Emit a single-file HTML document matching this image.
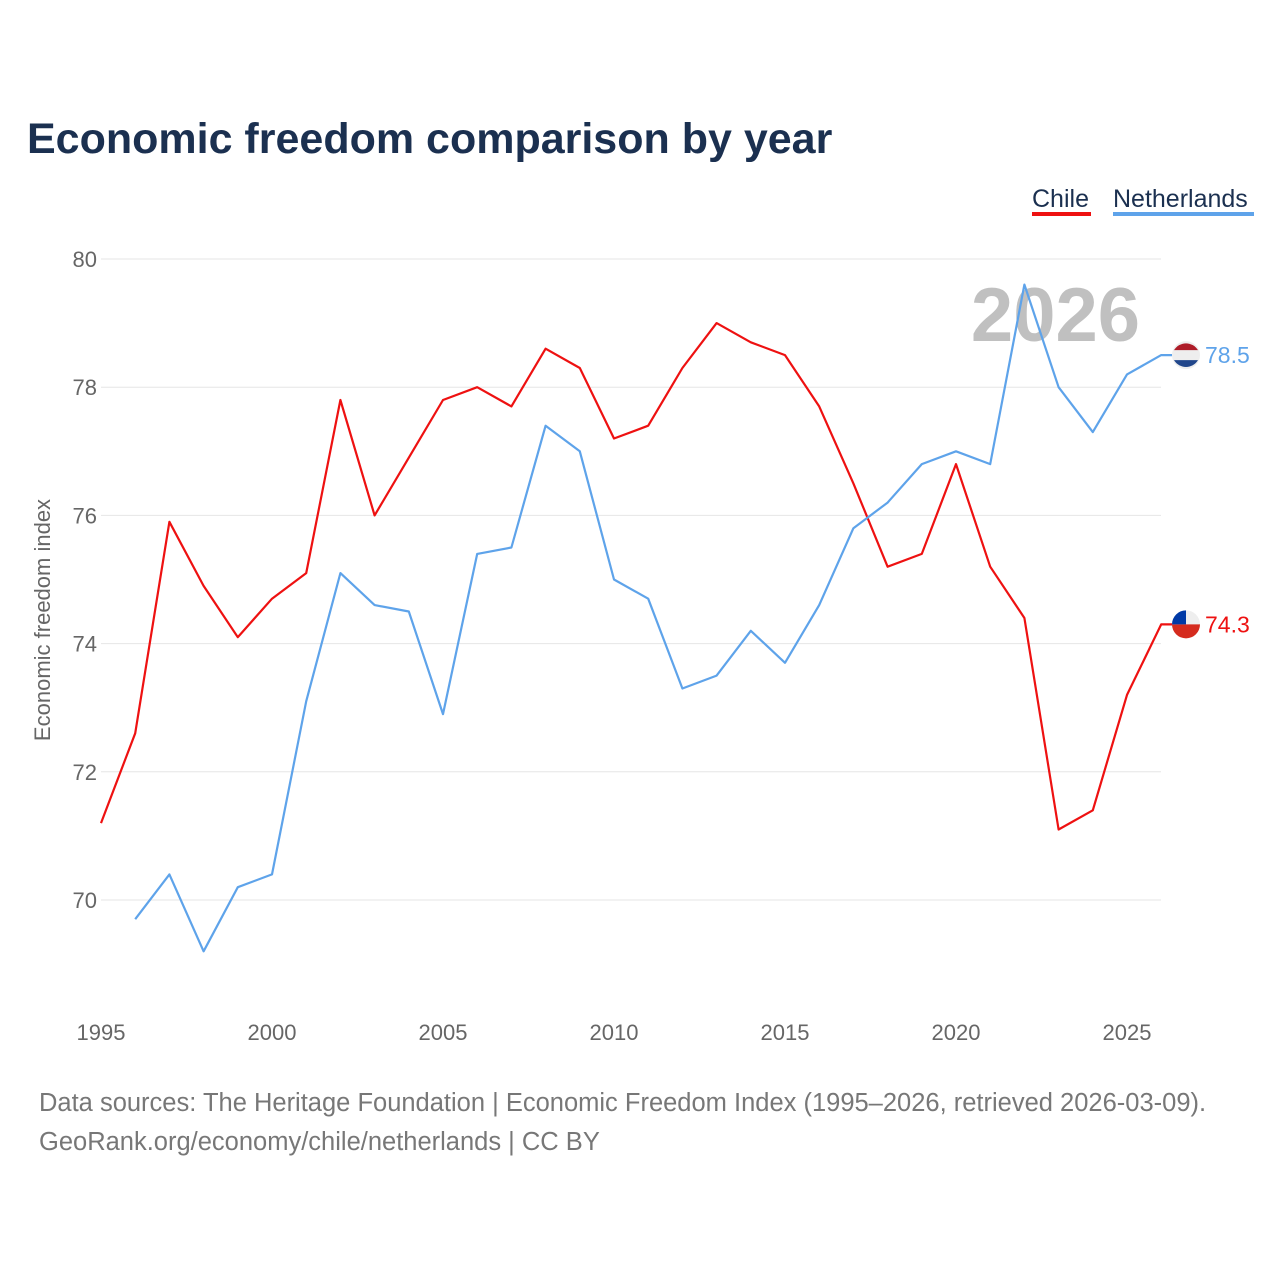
<!DOCTYPE html>
<html><head><meta charset="utf-8">
<style>
body{margin:0;background:#fff;font-family:"Liberation Sans",sans-serif;}
#wrap{position:relative;width:1280px;height:1280px;overflow:hidden;}
</style></head>
<body>
<div id="wrap">
<svg id="svg" width="1280" height="1280" xmlns="http://www.w3.org/2000/svg">
<text x="27" y="153" font-size="43" font-weight="bold" fill="#1b3050">Economic freedom comparison by year</text>
<g>
<text x="1032" y="207" font-size="25" fill="#1b3050">Chile</text>
<rect x="1032" y="212" width="59" height="4" fill="#ee1111"/>
<text x="1113" y="207" font-size="25" fill="#1b3050">Netherlands</text>
<rect x="1113" y="212" width="141" height="4" fill="#5ea3ea"/>
</g>
<text x="1140" y="341" font-size="76" font-weight="bold" fill="#c0c0c0" text-anchor="end">2026</text>
<g id="grid"></g>
<g id="xt"></g>
<text transform="translate(50,620) rotate(-90)" font-size="22" fill="#666" text-anchor="middle">Economic freedom index</text>
<g id="lines"></g>
<text x="39" y="1111" font-size="25.5" fill="#777">Data sources: The Heritage Foundation | Economic Freedom Index (1995–2026, retrieved 2026-03-09).</text>
<text x="39" y="1150" font-size="25.5" fill="#777">GeoRank.org/economy/chile/netherlands | CC BY</text>
</svg>
</div>
<script>
const years=[];for(let y=1995;y<=2026;y++)years.push(y);
const chile=[71.2,72.6,75.9,74.9,74.1,74.7,75.1,77.8,76.0,76.9,77.8,78.0,77.7,78.6,78.3,77.2,77.4,78.3,79.0,78.7,78.5,77.7,76.5,75.2,75.4,76.8,75.2,74.4,71.1,71.4,73.2,74.3];
const neth=[null,69.7,70.4,69.2,70.2,70.4,73.1,75.1,74.6,74.5,72.9,75.4,75.5,77.4,77.0,75.0,74.7,73.3,73.5,74.2,73.7,74.6,75.8,76.2,76.8,77.0,76.8,79.6,78.0,77.3,78.2,78.5];
const yTicks=[70,72,74,76,78,80];
const xTicks=[1995,2000,2005,2010,2015,2020,2025];
const NS="http://www.w3.org/2000/svg";
const X=y=>101+(y-1995)*(1127-101)/30;
const Y=v=>900-(v-70)*(900-259)/10;
function mk(t,a,p){const e=document.createElementNS(NS,t);for(const k in a)e.setAttribute(k,a[k]);p.appendChild(e);return e;}
const grid=document.getElementById('grid');
yTicks.forEach(v=>{
 const l=mk('line',{x1:101,x2:1161,y1:Y(v),y2:Y(v),stroke:'#e6e6e6','stroke-width':1},grid);
 
 
 const t=mk('text',{x:97,y:Y(v)+8,'font-size':22,fill:'#666','text-anchor':'end'},grid);t.textContent=v;
 
 
});
const xt=document.getElementById('xt');
xTicks.forEach(v=>{
 const t=mk('text',{x:X(v),y:1040,'font-size':22,fill:'#666','text-anchor':'middle'},xt);t.textContent=v;
 
 
});
const lines=document.getElementById('lines');
function series(vals,col,name){
 let d='';vals.forEach((v,i)=>{if(v==null)return;d+=(d?'L':'M')+X(years[i]).toFixed(1)+','+Y(v).toFixed(1);});
 const last=vals[vals.length-1];const ly=Y(last);
 d+='L1172,'+ly.toFixed(1);
 const p=mk('path',{d:d,fill:'none',stroke:col,'stroke-width':2.2,'stroke-linejoin':'round'},lines);
 
 
 const c=mk('circle',{cx:1186,cy:ly,r:14,fill:'#eee'},lines);
 
 
 if(name==='chile'){
  mk('path',{d:`M1172,${ly} A14,14 0 0,0 1200,${ly} Z`,fill:'#d52b1e'},lines);
  mk('path',{d:`M1186,${ly} L1186,${ly-14} A14,14 0 0,0 1172,${ly} Z`,fill:'#0039a6'},lines);
 }else{
  mk('path',{d:`M1174,${ly-5} A14,14 0 0,1 1198,${ly-5} Z`,fill:'#ae1c28'},lines);
  mk('path',{d:`M1174,${ly+5} A14,14 0 0,0 1198,${ly+5} Z`,fill:'#21468b'},lines);
 }
 const t=mk('text',{x:1205,y:ly+8,'font-size':23,fill:col},lines);t.textContent=last.toFixed(1);
 
 
}
series(chile,'#ee1111','chile');
series(neth,'#5ea3ea','netherlands');
</script>
</body></html>
